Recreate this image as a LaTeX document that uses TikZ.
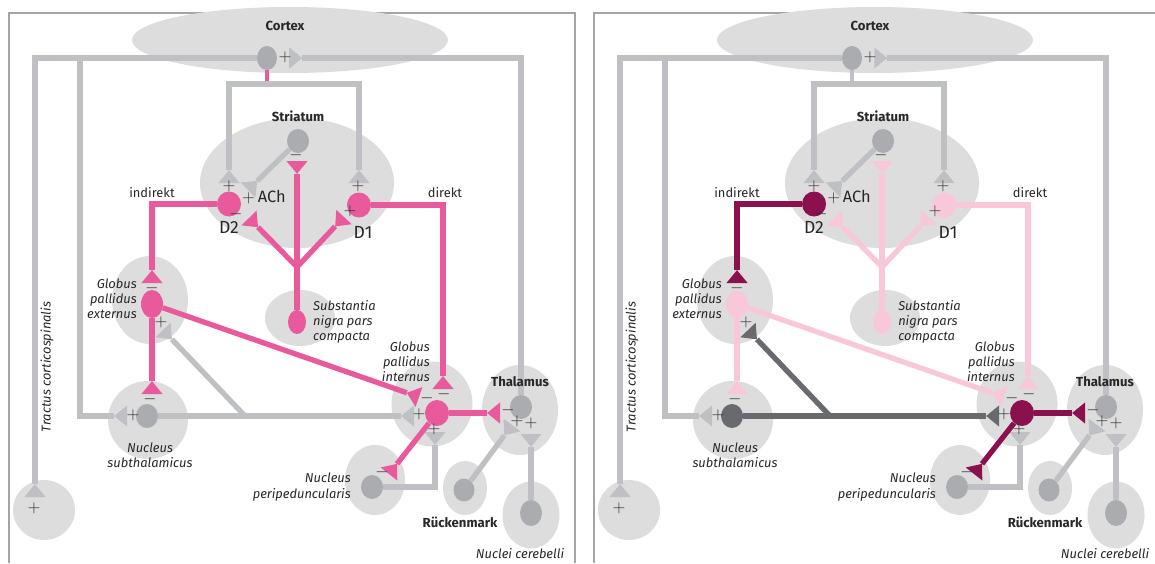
\documentclass[tikz,border=0pt]{standalone}
\usepackage{fontspec}
\setmainfont{Fira Sans}
\usetikzlibrary{arrows.meta,positioning,shapes.geometric}

\definecolor{frameGrey}{RGB}{165,165,165}
\definecolor{areaGrey}{RGB}{221,221,222}
\definecolor{wireGrey}{RGB}{190,192,195}
\definecolor{somaGrey}{RGB}{170,172,175}
\definecolor{pinkDA}{RGB}{232,90,155}
\definecolor{darkMag}{RGB}{138,16,78}
\definecolor{palePink}{RGB}{248,200,218}
\definecolor{darkSoma}{RGB}{105,106,110}
\definecolor{ink}{RGB}{40,40,40}

\tikzset{
  sz/.style 2 args={minimum width=#1*0.03cm, minimum height=#2*0.03cm},
  area/.style={ellipse, fill=areaGrey, inner sep=0pt},
  soma/.style={ellipse, inner sep=0pt},
  fibre/.style={line width=4.5pt},
  syn/.style={-{Triangle[reversed, width=18pt, length=11pt, line width=0pt]}},
  synsyn/.style={{Triangle[reversed, width=18pt, length=11pt, line width=0pt]}-{Triangle[reversed, width=18pt, length=11pt, line width=0pt]}},
  sgn/.style={text=ink, inner sep=0pt, font=\fontsize{14}{14}\selectfont},
  lab/.style={text=ink, inner sep=0pt, align=center, font=\fontsize{11}{13}\selectfont},
  hlab/.style={lab, font=\fontsize{11.2}{13}\selectfont\bfseries},
  ilab/.style={lab, font=\fontsize{11}{13}\selectfont\itshape},
  big/.style={lab, font=\fontsize{15}{15}\selectfont},
  frameline/.style={draw=frameGrey, line width=1.2pt}
}

% one panel of the basal ganglia loop, colours set by \colorlet before the call
\newcommand{\bgpanel}{%
  \draw[frameline] (9,563) |- (575,13) -- (575,563);
  % Regions
  \node[area, sz={316}{66}] (cortex) at (290,40) {};
  \node[area, sz={194}{130}] (striatum) at (297,183) {};
  \node[area, sz={76}{88}] (gpe) at (150,300) {};
  \node[area, sz={70}{56}] (snc) at (300,318) {};
  \node[area, sz={80}{78}] (stn) at (148,420) {};
  \node[area, sz={81}{85}] (gpi) at (432,404) {};
  \node[area, sz={76}{90}] (thal) at (520,410) {};
  \node[area, sz={60}{70}] (ppn) at (375,480) {};
  \node[area, sz={44}{54}] (rm) at (465,488) {};
  \node[area, sz={57}{67}] (cb) at (531,515) {};
  \node[area, sz={62}{60}] (tcs) at (44,510) {};
  % Neurons
  \node[soma, fill=somaGrey, sz={20}{24}] (ctxN) at (267,58) {};
  \node[soma, fill=somaGrey, sz={22}{24}] (achN) at (298,141) {};
  \node[soma, fill=indC, sz={24}{25}] (d2) at (229,204) {};
  \node[soma, fill=dirC, sz={24}{25}] (d1) at (359,205) {};
  \node[soma, fill=gpeC, sz={22}{28}] (gpeN) at (152,304) {};
  \node[soma, fill=daC, sz={18}{24}] (sncN) at (297,322) {};
  \node[soma, fill=stnS, sz={22}{24}] (stnN) at (147,416) {};
  \node[soma, fill=gpiC, sz={24}{26}] (gpiN) at (437,413) {};
  \node[soma, fill=somaGrey, sz={22}{24}] (thalN) at (521,407) {};
  \node[soma, fill=somaGrey, sz={22}{24}] (ppnN) at (372,487) {};
  \node[soma, fill=somaGrey, sz={21}{23}] (rmN) at (464,490) {};
  \node[soma, fill=somaGrey, sz={22}{26}] (cbN) at (531,513) {};
  % Synapse points
  \coordinate (tcsin) at (35,497);
  \coordinate (hyp) at (80,58);
  \coordinate (stnin) at (127,416);
  \coordinate (brk) at (297,84);
  \coordinate (stub) at (267,84);
  \coordinate (d2in) at (229,183);
  \coordinate (d1in) at (359,183);
  \coordinate (d2ach) at (248,190);
  \coordinate (achda) at (297,161);
  \coordinate (dabr) at (297,267);
  \coordinate (d2da) at (249,218);
  \coordinate (d1da) at (344,217);
  \coordinate (gpeind) at (152,283);
  \coordinate (gpidir) at (443,389);
  \coordinate (stngpe) at (152,394);
  \coordinate (gpigpe) at (419,397);
  \coordinate (gpistn) at (414,416);
  \coordinate (stnbr) at (245,416);
  \coordinate (gpestn) at (163,330);
  \coordinate (thalgpi) at (500,413);
  \coordinate (ppngpi) at (389,474);
  \coordinate (gpippn) at (435,432);
  \coordinate (thalrm) at (512,425);
  \coordinate (thalcb) at (531,434);
  % Grey pathways
  \draw[fibre, wireGrey, syn, shorten >=0.36cm] (thalN) |- (ctxN);
  \draw[fibre, wireGrey, syn] (ctxN) -| (tcsin);
  \draw[fibre, wireGrey, syn] (hyp) |- (stnin);
  \draw[line width=3pt, stubC] (ctxN) -- (stub);
  \draw[fibre, wireGrey, synsyn] (d2in) |- (brk) -| (d1in);
  \draw[fibre, wireGrey, syn] (achN) -- (d2ach);
  \draw[fibre, wireGrey, syn] (ppnN) -| (gpippn);
  \draw[fibre, wireGrey, syn] (rmN) -- (thalrm);
  \draw[fibre, wireGrey, syn] (cbN) -- (thalcb);
  % Dopamine
  \draw[fibre, daC, syn] (sncN) -- (achda);
  \draw[fibre, daC, syn] (dabr) -- (d2da);
  \draw[fibre, daC, syn] (dabr) -- (d1da);
  % Indirect and direct
  \draw[fibre, indC, syn] (d2) -| (gpeind);
  \draw[fibre, dirC, syn] (d1) -| (gpidir);
  \draw[fibre, gpeC, syn] (gpeN) -- (stngpe);
  \draw[fibre, gpeC, syn] (gpeN) -- (gpigpe);
  \draw[fibre, stnC, syn] (stnN) -- (gpistn);
  \draw[fibre, stnC, syn] (stnbr) -- (gpestn);
  \draw[fibre, gpiC, syn] (gpiN) -- (thalgpi);
  \draw[fibre, gpiC, syn] (gpiN) -- (ppngpi);
  % Signs
  \node[sgn] (pctx) at (285,57) {$+$};
  \node[sgn] (pd2) at (229,186) {$+$};
  \node[sgn] (pd1) at (358,186) {$+$};
  \node[sgn] (mach) at (296,155) {$-$};
  \node[sgn] (md2) at (236,214) {$-$};
  \node[sgn] (pd1da) at (350,211) {$+$};
  \node[sgn] (mgpe) at (152,288) {$-$};
  \node[sgn] (pgpe) at (161,322) {$+$};
  \node[sgn] (mstn) at (150,399) {$-$};
  \node[sgn] (pstn) at (133,415) {$+$};
  \node[sgn] (mgpi1) at (427,398) {$-$};
  \node[sgn] (mgpi2) at (444,394) {$-$};
  \node[sgn] (pgpi1) at (419,414) {$+$};
  \node[sgn] (pgpi2) at (434,429) {$+$};
  \node[sgn] (mthal) at (508,410) {$-$};
  \node[sgn] (pthal1) at (517,421) {$+$};
  \node[sgn] (pthal2) at (531,423) {$+$};
  \node[sgn] (mppn) at (382,472) {$-$};
  \node[sgn] (ptcs) at (34,508) {$+$};
  % Labels
  \node[hlab] (lcortex) at (285,26) {Cortex};
  \node[hlab] (lstr) at (298,116) {Striatum};
  \node[lab] (lind) at (152,193) {indirekt};
  \node[lab] (ldir) at (445,193) {direkt};
  \node[lab, anchor=west, font=\fontsize{14}{14}\selectfont] (lach) at (242,197) {$+$\,ACh};
  \node[big, below=0.14cm of d2] (ld2) {D2};
  \node[big, below=0.24cm of d1, xshift=0.12cm] (ld1) {D1};
  \node[ilab, anchor=east, align=right] (lgpe) at (137,299) {Globus\\pallidus\\externus};
  \node[ilab, anchor=west, align=left] (lsnc) at (313,322) {Substantia\\nigra pars\\compacta};
  \node[ilab, anchor=east, align=right] (lgpi) at (430,362) {Globus\\pallidus\\internus};
  \node[ilab] (lstn) at (150,455) {Nucleus\\subthalamicus};
  \node[ilab, anchor=east, align=right] (lppn) at (351,487) {Nucleus\\peripeduncularis};
  \node[hlab] (lthal) at (520,382) {Thalamus};
  \node[hlab] (lrm) at (460,522) {Rückenmark};
  \node[ilab] (lcb) at (520,554) {Nuclei cerebelli};
  \node[ilab, rotate=90] (ltcs) at (47,367) {Tractus corticospinalis};
}

\begin{document}
\begin{tikzpicture}[x=0.03cm, y=-0.03cm]
\useasboundingbox (0,0) rectangle (1155,563);
\clip (0,0) rectangle (1155,563);
\fill[white] (0,0) rectangle (1155,563);

% Left: normal state
\begin{scope}[name prefix=L-]
  \colorlet{indC}{pinkDA}
  \colorlet{dirC}{pinkDA}
  \colorlet{daC}{pinkDA}
  \colorlet{gpeC}{pinkDA}
  \colorlet{stnS}{somaGrey}
  \colorlet{stnC}{wireGrey}
  \colorlet{gpiC}{pinkDA}
  \colorlet{stubC}{pinkDA}
  \bgpanel
\end{scope}

% Right: dopamine loss
\begin{scope}[xshift=17.55cm, name prefix=R-]
  \colorlet{indC}{darkMag}
  \colorlet{dirC}{palePink}
  \colorlet{daC}{palePink}
  \colorlet{gpeC}{palePink}
  \colorlet{stnS}{darkSoma}
  \colorlet{stnC}{darkSoma}
  \colorlet{gpiC}{darkMag}
  \colorlet{stubC}{wireGrey}
  \bgpanel
\end{scope}
\end{tikzpicture}
\end{document}
